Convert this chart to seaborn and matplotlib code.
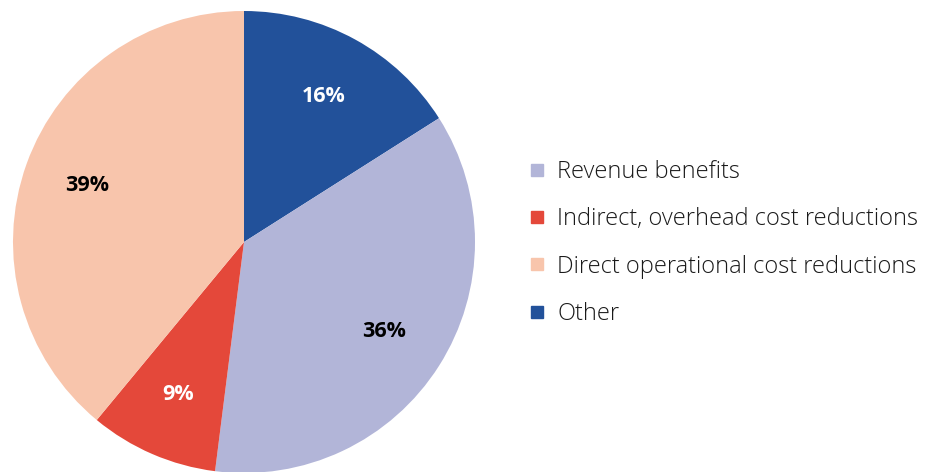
import matplotlib
matplotlib.use("Agg")
import matplotlib.pyplot as plt
from matplotlib.lines import Line2D
import seaborn as sns

# Slices in drawing order (clockwise from 12 o'clock)
categorias = ["Other", "Revenue benefits", "Indirect, overhead cost reductions",
              "Direct operational cost reductions"]
valores = [16, 36, 9, 39]
colores = ["#22519A", "#B2B5D8", "#E4483A", "#F8C5AC"]
color_etiqueta = ["white", "black", "white", "black"]

# Legend order as in the reference
orden_leyenda = ["Revenue benefits", "Indirect, overhead cost reductions",
                 "Direct operational cost reductions", "Other"]

sns.set_theme(style="white")
plt.rcParams['font.family'] = ['Open Sans', 'DejaVu Sans']

fig = plt.figure(figsize=(9.38, 4.72), dpi=100)
ax = fig.add_axes([13 / 938, -1 / 472, 462 / 938, 462 / 472])

wedges, textos, autotextos = ax.pie(
    valores, colors=colores, startangle=90, counterclock=False,
    autopct="%d%%", pctdistance=0.72,
    wedgeprops=dict(linewidth=0, edgecolor="none"),
    textprops=dict(fontsize=15.5, fontweight="bold"))
for t, c in zip(autotextos, color_etiqueta):
    t.set_color(c)
ax.set_xlim(-1, 1)
ax.set_ylim(-1, 1)
ax.set_aspect("equal")

handles = []
for nombre in orden_leyenda:
    i = categorias.index(nombre)
    handles.append(Line2D([], [], marker="s", linestyle="none", markersize=9,
                          markerfacecolor=colores[i], markeredgecolor=colores[i]))
leg = fig.legend(handles, orden_leyenda, loc="center left",
                 bbox_to_anchor=(528 / 938, 1 - 243 / 472), frameon=False,
                 fontsize=17, labelspacing=0.99, handlelength=0.72,
                 handletextpad=0.52, borderaxespad=0, borderpad=0)
for t in leg.get_texts():
    t.set_fontweight("light")
    t.set_color("#1a1a1a")

fig.savefig("out.png", dpi=100)
